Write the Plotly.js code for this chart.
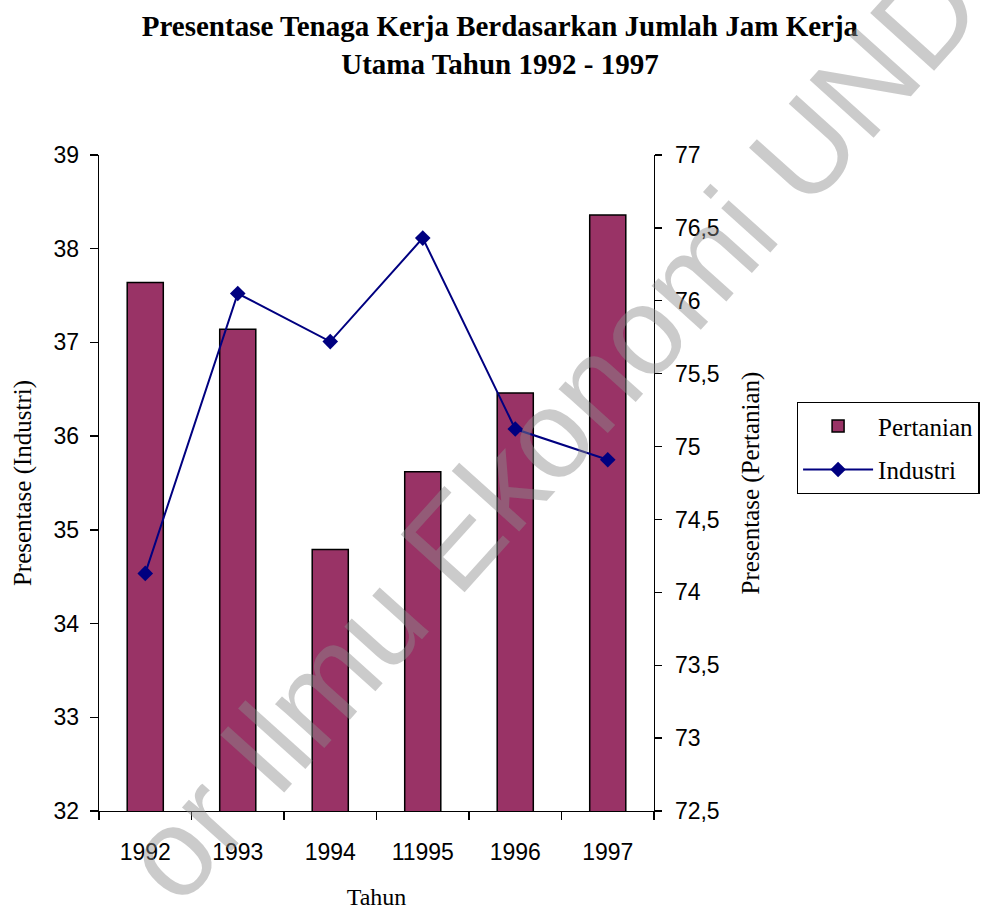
<!DOCTYPE html>
<html><head><meta charset="utf-8">
<script src="https://cdn.plot.ly/plotly-3.0.1.min.js"></script>
<style>html,body{margin:0;padding:0;background:#fff}#chart{width:990px;height:911px}</style>
</head><body><div id="chart"></div>
<script>
const years = ['1992', '1993', '1994', '11995', '1996', '1997'];
const pertanian = [37.64, 37.14, 34.79, 35.62, 36.46, 38.36];
const industri = [74.13, 76.05, 75.72, 76.43, 75.12, 74.91];
const leftRange = [32, 39];
const rightRange = [72.5, 77];

const boundaries = years.map((_, i) => i - 0.5).concat([years.length - 0.5]);
const serif = 'Liberation Serif, Times New Roman, serif';
const sans = 'Liberation Sans, Arial, sans-serif';

const traces = [
  {type: 'bar', name: 'Pertanian', x: years, y: pertanian, xaxis: 'x', yaxis: 'y',
   width: 0.39, legendgroup: 'a',
   marker: {color: '#993366', line: {color: '#000', width: 1.5}}},
  {type: 'scatter', mode: 'lines+markers', name: 'Industri', x: years, y: industri,
   xaxis: 'x', yaxis: 'y2', legendgroup: 'b',
   line: {color: '#000080', width: 2},
   marker: {symbol: 'diamond', size: 12, color: '#000080'}}
];

const tickFont = {family: sans, size: 23, color: '#000'};
const layout = {
  width: 990, height: 911,
  paper_bgcolor: '#fff', plot_bgcolor: '#fff',
  separators: ',.',
  margin: {l: 99, r: 335, t: 155, b: 100},
  showlegend: true,
  title: {text: '<b>Presentase Tenaga Kerja Berdasarkan Jumlah Jam Kerja<br>Utama Tahun 1992 - 1997</b>',
          font: {family: serif, size: 29, color: '#000'},
          x: 0.505, xanchor: 'center', xref: 'container',
          y: 0.96, yanchor: 'top', yref: 'container'},
  xaxis: {type: 'category', tickson: 'boundaries', ticks: 'outside', ticklen: 8,
          tickcolor: '#000', tickwidth: 1.3, showline: true, linecolor: '#000', linewidth: 1.3,
          showgrid: false, zeroline: false, tickfont: tickFont, ticklabelstandoff: 20,
          title: {text: 'Tahun', font: {family: serif, size: 24, color: '#000'}, standoff: 24},
          automargin: false},
  xaxis2: {overlaying: 'x', anchor: 'y', type: 'linear', range: [-0.5, years.length - 0.5],
           tickmode: 'array', tickvals: boundaries, ticks: 'inside', ticklen: 6,
           tickcolor: '#000', tickwidth: 1.3, showticklabels: false, showline: false,
           showgrid: false, zeroline: false},
  yaxis: {range: leftRange, dtick: 1, ticks: 'outside', ticklen: 8, tickcolor: '#000',
          tickwidth: 1.3, showline: true, linecolor: '#000', linewidth: 1.3,
          showgrid: false, zeroline: false, tickfont: tickFont, ticklabelstandoff: 6,
          title: {text: 'Presentase (Industri)', font: {family: serif, size: 25, color: '#000'}, standoff: 14},
          automargin: false},
  yaxis2: {overlaying: 'y', side: 'right', anchor: 'x', range: rightRange, dtick: 0.5,
           ticks: 'outside', ticklen: 7, tickcolor: '#000', tickwidth: 1.3,
           showline: true, linecolor: '#000', linewidth: 1.3, showgrid: false, zeroline: false,
           tickfont: tickFont, ticklabelstandoff: 8,
           title: {text: 'Presentase (Pertanian)', font: {family: serif, size: 25, color: '#000'}, standoff: 22},
           automargin: false},
  yaxis3: {overlaying: 'y', side: 'left', anchor: 'x', range: leftRange, dtick: 1,
           ticks: 'inside', ticklen: 7, tickcolor: '#000', tickwidth: 1.3,
           showticklabels: false, showline: false, showgrid: false, zeroline: false},
  yaxis4: {overlaying: 'y', side: 'right', anchor: 'x', range: rightRange, dtick: 0.5,
           ticks: 'inside', ticklen: 9, tickcolor: '#000', tickwidth: 1.3,
           showticklabels: false, showline: false, showgrid: false, zeroline: false},
  legend: {x: 1.255, xanchor: 'left', y: 0.6235, yanchor: 'top',
           font: {family: serif, size: 25, color: '#000'},
           bordercolor: '#000', borderwidth: 1.3, bgcolor: '#fff',
           traceorder: 'grouped', tracegroupgap: 8, itemwidth: 70},
  annotations: [
    {text: 'or Ilmu Ekonomi UNDIP', xref: 'paper', yref: 'paper', x: 0.885, y: 0.646,
     xanchor: 'center', yanchor: 'middle',
     showarrow: false, textangle: -48,
     font: {family: sans, size: 125, color: 'rgba(140,140,140,0.45)'}}
  ]
};

Plotly.newPlot('chart', traces, layout, {displayModeBar: false, staticPlot: true});
</script>
</body></html>
